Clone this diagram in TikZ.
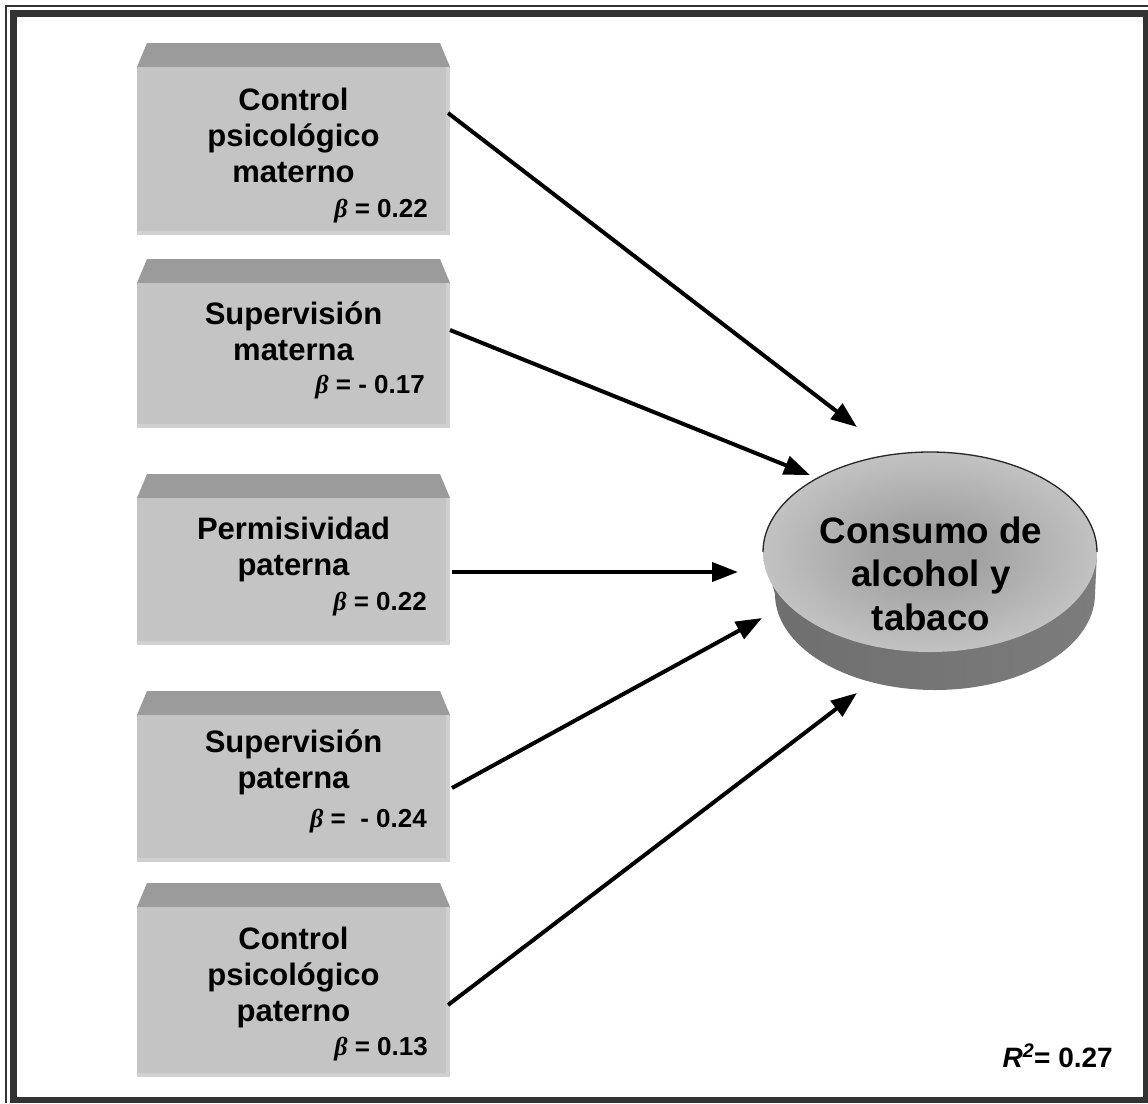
\documentclass[tikz,border=0pt]{standalone}
\usepackage{fontspec}
\setmainfont{Liberation Sans}
\newfontfamily\grk{Liberation Serif}
\usetikzlibrary{arrows.meta,shapes.geometric}
\definecolor{facegray}{HTML}{C4C4C4}
\definecolor{bevelgray}{HTML}{9B9B9B}
\definecolor{edgegray}{HTML}{D0D0D0}
\definecolor{framegray}{HTML}{333333}
\definecolor{discin}{HTML}{A0A0A0}
\definecolor{discout}{HTML}{E4E4E4}
\definecolor{sidedark}{HTML}{6E6E6E}
\definecolor{sidemid}{HTML}{9A9A9A}
\definecolor{sidelight}{HTML}{7C7C7C}
\pgfdeclareradialshading{discshade}{\pgfpoint{0bp}{0bp}}{color(0bp)=(discin); color(6bp)=(discin); color(44bp)=(discout); color(50bp)=(discout)}
\begin{document}
\begin{tikzpicture}[x=1pt,y=-1pt,
  boxface/.style={fill=facegray, draw=none, inner sep=0pt, minimum width=313pt},
  lbl/.style={font=\fontsize{31}{36}\selectfont\bfseries, align=center, anchor=base, inner sep=0pt},
  coef/.style={font=\fontsize{26}{30}\selectfont\bfseries, anchor=base east, inner sep=0pt},
  biglbl/.style={font=\fontsize{36.7}{43.5}\selectfont\bfseries, align=center, anchor=base, inner sep=0pt},
  arr/.style={line width=4pt, -{Triangle[length=26pt,width=19pt]}},
]
\useasboundingbox (0,0) rectangle (1148,1103);
% frame
\fill[framegray] (10,10) rectangle (1148,1103);
\fill[white] (17,17) rectangle (1143,1097);
\draw[framegray, line width=2.5pt] (6,1103) -- (6,6) -- (1148,6);
% boxes
\foreach \n/\t/\b in {b1/67/235, b2/283/428, b3/498/645, b4/715/862, b5/907/1077} {
  \fill[bevelgray] (137,\t) -- (147,\t-24) -- (440,\t-24) -- (450,\t) -- cycle;
  \node[boxface, minimum height={\b-\t}] (\n) at (293.5,{(\t+\b)/2}) {};
  \fill[edgegray] (446,\t) rectangle (450,\b);
  \fill[edgegray] (137,\b-4) rectangle (450,\b);
}
% box texts (anchor base = baseline of last line)
\node[lbl] (t1) at (293.5,182) {Control\\psicológico\\materno};
\node[coef] (c1) at (428,217) {{\grk\itshape β} = 0.22};
\node[lbl] (t2) at (293.5,360) {Supervisión\\materna};
\node[coef] (c2) at (425,393) {{\grk\itshape β} = - 0.17};
\node[lbl] (t3) at (293.5,575) {Permisividad\\paterna};
\node[coef] (c3) at (427,610) {{\grk\itshape β} = 0.22};
\node[lbl] (t4) at (293.5,788) {Supervisión\\paterna};
\node[coef] (c4) at (427,827) {{\grk\itshape β} =\ \ - 0.24};
\node[lbl] (t5) at (293.5,1021) {Control\\psicológico\\paterno};
\node[coef] (c5) at (428,1055) {{\grk\itshape β} = 0.13};
% disc
\shade[left color=sidedark, middle color=sidemid, right color=sidelight]
  (763,552) -- (775,594) arc[start angle=180, end angle=0, x radius=160, y radius=96] -- (1097,552) -- cycle;
\node[ellipse, minimum width=334pt, minimum height=200pt, inner sep=0pt, shading=discshade, shade] (cons) at (930,552) {};
\draw[black!85, line width=1.3pt] (763,552) arc[start angle=180, end angle=360, x radius=167, y radius=100];
\node[biglbl] (ctext) at (931,630) {Consumo de\\alcohol y\\tabaco};
% R2
\node[anchor=base east, inner sep=0pt, font=\fontsize{28}{32}\selectfont\bfseries] (r2) at (1113,1067) {\itshape R\textsuperscript{2}\upshape= 0.27};
% arrows
\coordinate (s1) at (448,113);  \coordinate (e1) at (857,427);
\coordinate (s2) at (450,330);  \coordinate (e2) at (810,475);
\coordinate (s3) at (452,572);  \coordinate (e3) at (738,572);
\coordinate (s4) at (452,788);  \coordinate (e4) at (762,618);
\coordinate (s5) at (448,1005); \coordinate (e5) at (857,693);
\foreach \i in {1,...,5} { \draw[arr] (s\i) -- (e\i); }
\end{tikzpicture}
\end{document}
